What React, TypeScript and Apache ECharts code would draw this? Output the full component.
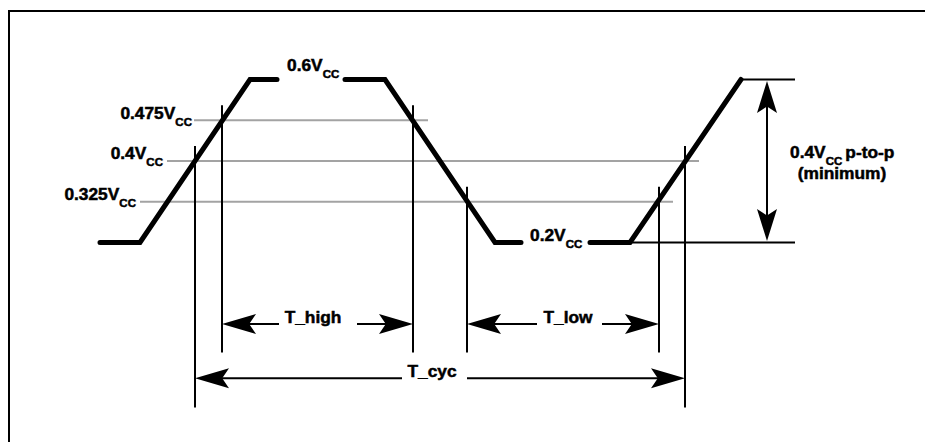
import React, { useEffect, useRef } from "react";
import * as echarts from "echarts";

// Voltage levels (fractions of Vcc), drawn as evenly spaced schematic rows
const levelValues = [0.2, 0.325, 0.4, 0.475, 0.6];
const levelNames = ["0.2V", "0.325V", "0.4V", "0.475V", "0.6V"];
const supplySub = "CC";

// Waveform breakpoints (time units); null = gap left for a label
const waveTimes = [100, 140, 250, 277, null, 345, 385, 495, 521, null, 590, 630, 741];
const waveLevels = [0.2, 0.2, 0.6, 0.6, null, 0.6, 0.6, 0.2, 0.2, null, 0.2, 0.2, 0.6];

// Threshold reference lines
const thresholdLevels = [0.475, 0.4, 0.325];
const thresholdFrom = [194, 167, 140];
const thresholdTo = [428, 699, 673];

// Crossing markers (vertical lines)
const crossTimes = [195, 222, 413, 467, 659, 685];
const crossLevels = [0.4, 0.475, 0.475, 0.325, 0.325, 0.4];
const crossRowEnd = [-4.05, -2.7, -2.7, -2.7, -2.7, -4.05];

// Timing dimensions
const dimNames = ["T_high", "T_low", "T_cyc"];
const dimFrom = [222, 467, 195];
const dimTo = [413, 659, 685];
const dimRow = [-2, -2, -3.33];
const dimGapFrom = [279, 537, 402];
const dimGapTo = [357, 602, 467];
const dimLabelX = [313, 568, 432];

// Peak-to-peak swing
const swingLow = 0.2;
const swingHigh = 0.6;
const swingTime = 767;
const swingRefFrom = [630, 741];
const swingRefTo = 795;
const swingMain = "0.4V";
const swingTail = "p-to-p";
const swingNote = "(minimum)";

// ---- layout / style ----
const labelAnchorX = [530, 136, 163, 192, 287];
const labelAlign = ["left", "right", "right", "right", "left"];
const labelDy = [-6.5, -7, -7.5, -7, -14];
const SUB_DY = 8.5;
const FAMILY = '"Liberation Sans", Arial, Helvetica, sans-serif';
const MAIN = `bold 16.5px ${FAMILY}`;
const SUB = `bold 11px ${FAMILY}`;
const MAIN_SX = 1.05;
const SUB_SX = 1.05;
const GRAY = "#a3a3a3";
const MARKER_OVERHANG = 0.37;

const lv = (v: number) => levelValues.indexOf(v);

let measureCtx: CanvasRenderingContext2D | null = null;
function textW(t: string, font: string) {
  if (!measureCtx) measureCtx = document.createElement("canvas").getContext("2d");
  measureCtx!.font = font;
  return measureCtx!.measureText(t).width;
}

const txt = (text: string, x: number, y: number, font: string, sx: number, align = "left") => ({
  type: "text",
  x,
  y,
  scaleX: sx,
  style: {
    text,
    font,
    fill: "#000",
    stroke: "#000",
    lineWidth: 0.5,
    textAlign: align,
    textVerticalAlign: "middle",
    align,
    verticalAlign: "middle",
  },
});

const seg = (x1: number, y1: number, x2: number, y2: number, w = 2) => ({
  type: "line",
  shape: { x1, y1, x2, y2 },
  style: { stroke: "#000", lineWidth: w },
});

function arrowHead(tx: number, ty: number, dx: number, dy: number, L = 34, h = 10) {
  const nx = -dy;
  const ny = dx;
  const bx = tx - dx * L;
  const by = ty - dy * L;
  return {
    type: "polygon",
    shape: {
      points: [
        [tx, ty],
        [bx + nx * h, by + ny * h],
        [tx - dx * L * 0.8, ty - dy * L * 0.8],
        [bx - nx * h, by - ny * h],
      ],
    },
    style: { fill: "#000" },
  };
}

function buildOption() {
  const segments: number[][][] = [];
  let cur: number[][] = [];
  waveTimes.forEach((t, i) => {
    if (t === null || waveLevels[i] === null) {
      if (cur.length) segments.push(cur);
      cur = [];
    } else {
      cur.push([t, lv(waveLevels[i] as number)]);
    }
  });
  if (cur.length) segments.push(cur);

  const lineBase = {
    type: "line",
    symbol: "none",
    clip: false,
    silent: true,
    animation: false,
  };

  const series: any[] = [];

  thresholdLevels.forEach((l, i) => {
    series.push({
      ...lineBase,
      z: 1,
      data: [
        [thresholdFrom[i], lv(l)],
        [thresholdTo[i], lv(l)],
      ],
      lineStyle: { color: GRAY, width: 2 },
    });
  });

  crossTimes.forEach((t, i) => {
    series.push({
      ...lineBase,
      z: 2,
      data: [
        [t, lv(crossLevels[i]) + MARKER_OVERHANG],
        [t, crossRowEnd[i]],
      ],
      lineStyle: { color: "#000", width: 2 },
    });
  });

  series.push({
    ...lineBase,
    z: 2,
    data: [
      [swingRefFrom[0], lv(swingLow)],
      [swingRefTo, lv(swingLow)],
    ],
    lineStyle: { color: "#000", width: 2 },
  });
  series.push({
    ...lineBase,
    z: 2,
    data: [
      [swingRefFrom[1], lv(swingHigh)],
      [swingRefTo, lv(swingHigh)],
    ],
    lineStyle: { color: "#000", width: 2 },
  });

  segments.forEach((s) => {
    series.push({
      ...lineBase,
      z: 3,
      data: s,
      lineStyle: { color: "#000", width: 5, cap: "round", join: "miter" },
    });
  });

  series.push({
    type: "custom",
    z: 4,
    silent: true,
    clip: false,
    data: dimNames.map((_, i) => [dimFrom[i], dimRow[i]]),
    renderItem: (params: any, api: any) => {
      const i = params.dataIndex;
      const [x1, y] = api.coord([dimFrom[i], dimRow[i]]);
      const [x2] = api.coord([dimTo[i], dimRow[i]]);
      const [g1] = api.coord([dimGapFrom[i], dimRow[i]]);
      const [g2] = api.coord([dimGapTo[i], dimRow[i]]);
      const [lx] = api.coord([dimLabelX[i], dimRow[i]]);
      return {
        type: "group",
        children: [
          seg(x1 + 20, y, g1, y),
          seg(g2, y, x2 - 20, y),
          arrowHead(x1, y, -1, 0),
          arrowHead(x2, y, 1, 0),
          txt(dimNames[i], lx, y - 6.5, MAIN, MAIN_SX, "center"),
        ],
      };
    },
  });

  series.push({
    type: "custom",
    z: 4,
    silent: true,
    clip: false,
    data: [[swingTime, lv(swingLow)]],
    renderItem: (_params: any, api: any) => {
      const [x, yl] = api.coord([swingTime, lv(swingLow)]);
      const [, yh] = api.coord([swingTime, lv(swingHigh)]);
      const [, ym] = api.coord([swingTime, (lv(swingLow) + lv(swingHigh)) / 2]);
      const lx = 790;
      const wm = textW(swingMain, MAIN) * MAIN_SX;
      const ws = textW(supplySub, SUB) * SUB_SX;
      return {
        type: "group",
        children: [
          seg(x, yh + 20, x, yl - 20),
          arrowHead(x, yh + 1.5, 0, -1, 32, 10),
          arrowHead(x, yl - 1.5, 0, 1, 32, 10),
          txt(swingMain, lx, ym - 8, MAIN, MAIN_SX),
          txt(supplySub, lx + wm, ym - 8 + SUB_DY, SUB, SUB_SX),
          txt(swingTail, lx + wm + ws + 3, ym - 8, MAIN, MAIN_SX),
          txt(swingNote, 842, ym + 13, MAIN, MAIN_SX, "center"),
        ],
      };
    },
  });

  series.push({
    type: "custom",
    z: 5,
    silent: true,
    clip: false,
    data: levelValues.map((_, i) => [labelAnchorX[i], i]),
    renderItem: (params: any, api: any) => {
      const i = params.dataIndex;
      const [ax, ay] = api.coord([labelAnchorX[i], i]);
      const wm = textW(levelNames[i], MAIN) * MAIN_SX;
      const ws = textW(supplySub, SUB) * SUB_SX;
      const left = labelAlign[i] === "right" ? ax - wm - ws : ax;
      const cy = ay + labelDy[i];
      return {
        type: "group",
        children: [
          txt(levelNames[i], left, cy, MAIN, MAIN_SX),
          txt(supplySub, left + wm, cy + SUB_DY, SUB, SUB_SX),
        ],
      };
    },
  });

  return {
    animation: false,
    backgroundColor: "#fff",
    grid: { left: 0, width: 925, top: 79.5, height: 163, containLabel: false },
    xAxis: { type: "value", min: 0, max: 925, show: false },
    yAxis: { type: "value", min: 0, max: 4, show: false },
    graphic: [
      {
        type: "line",
        shape: { x1: 9, y1: 11, x2: 925, y2: 11 },
        style: { stroke: "#000", lineWidth: 2 },
      },
      {
        type: "line",
        shape: { x1: 9, y1: 10, x2: 9, y2: 442 },
        style: { stroke: "#000", lineWidth: 2 },
      },
    ],
    series,
  };
}

export default function App() {
  const ref = useRef<HTMLDivElement>(null);
  useEffect(() => {
    const chart = echarts.init(ref.current!, null, { renderer: "svg" });
    chart.setOption(buildOption() as any);
    return () => chart.dispose();
  }, []);
  return (
    <div
      ref={ref}
      style={{ position: "fixed", left: 0, top: 0, width: 925, height: 442, background: "#fff" }}
    />
  );
}
